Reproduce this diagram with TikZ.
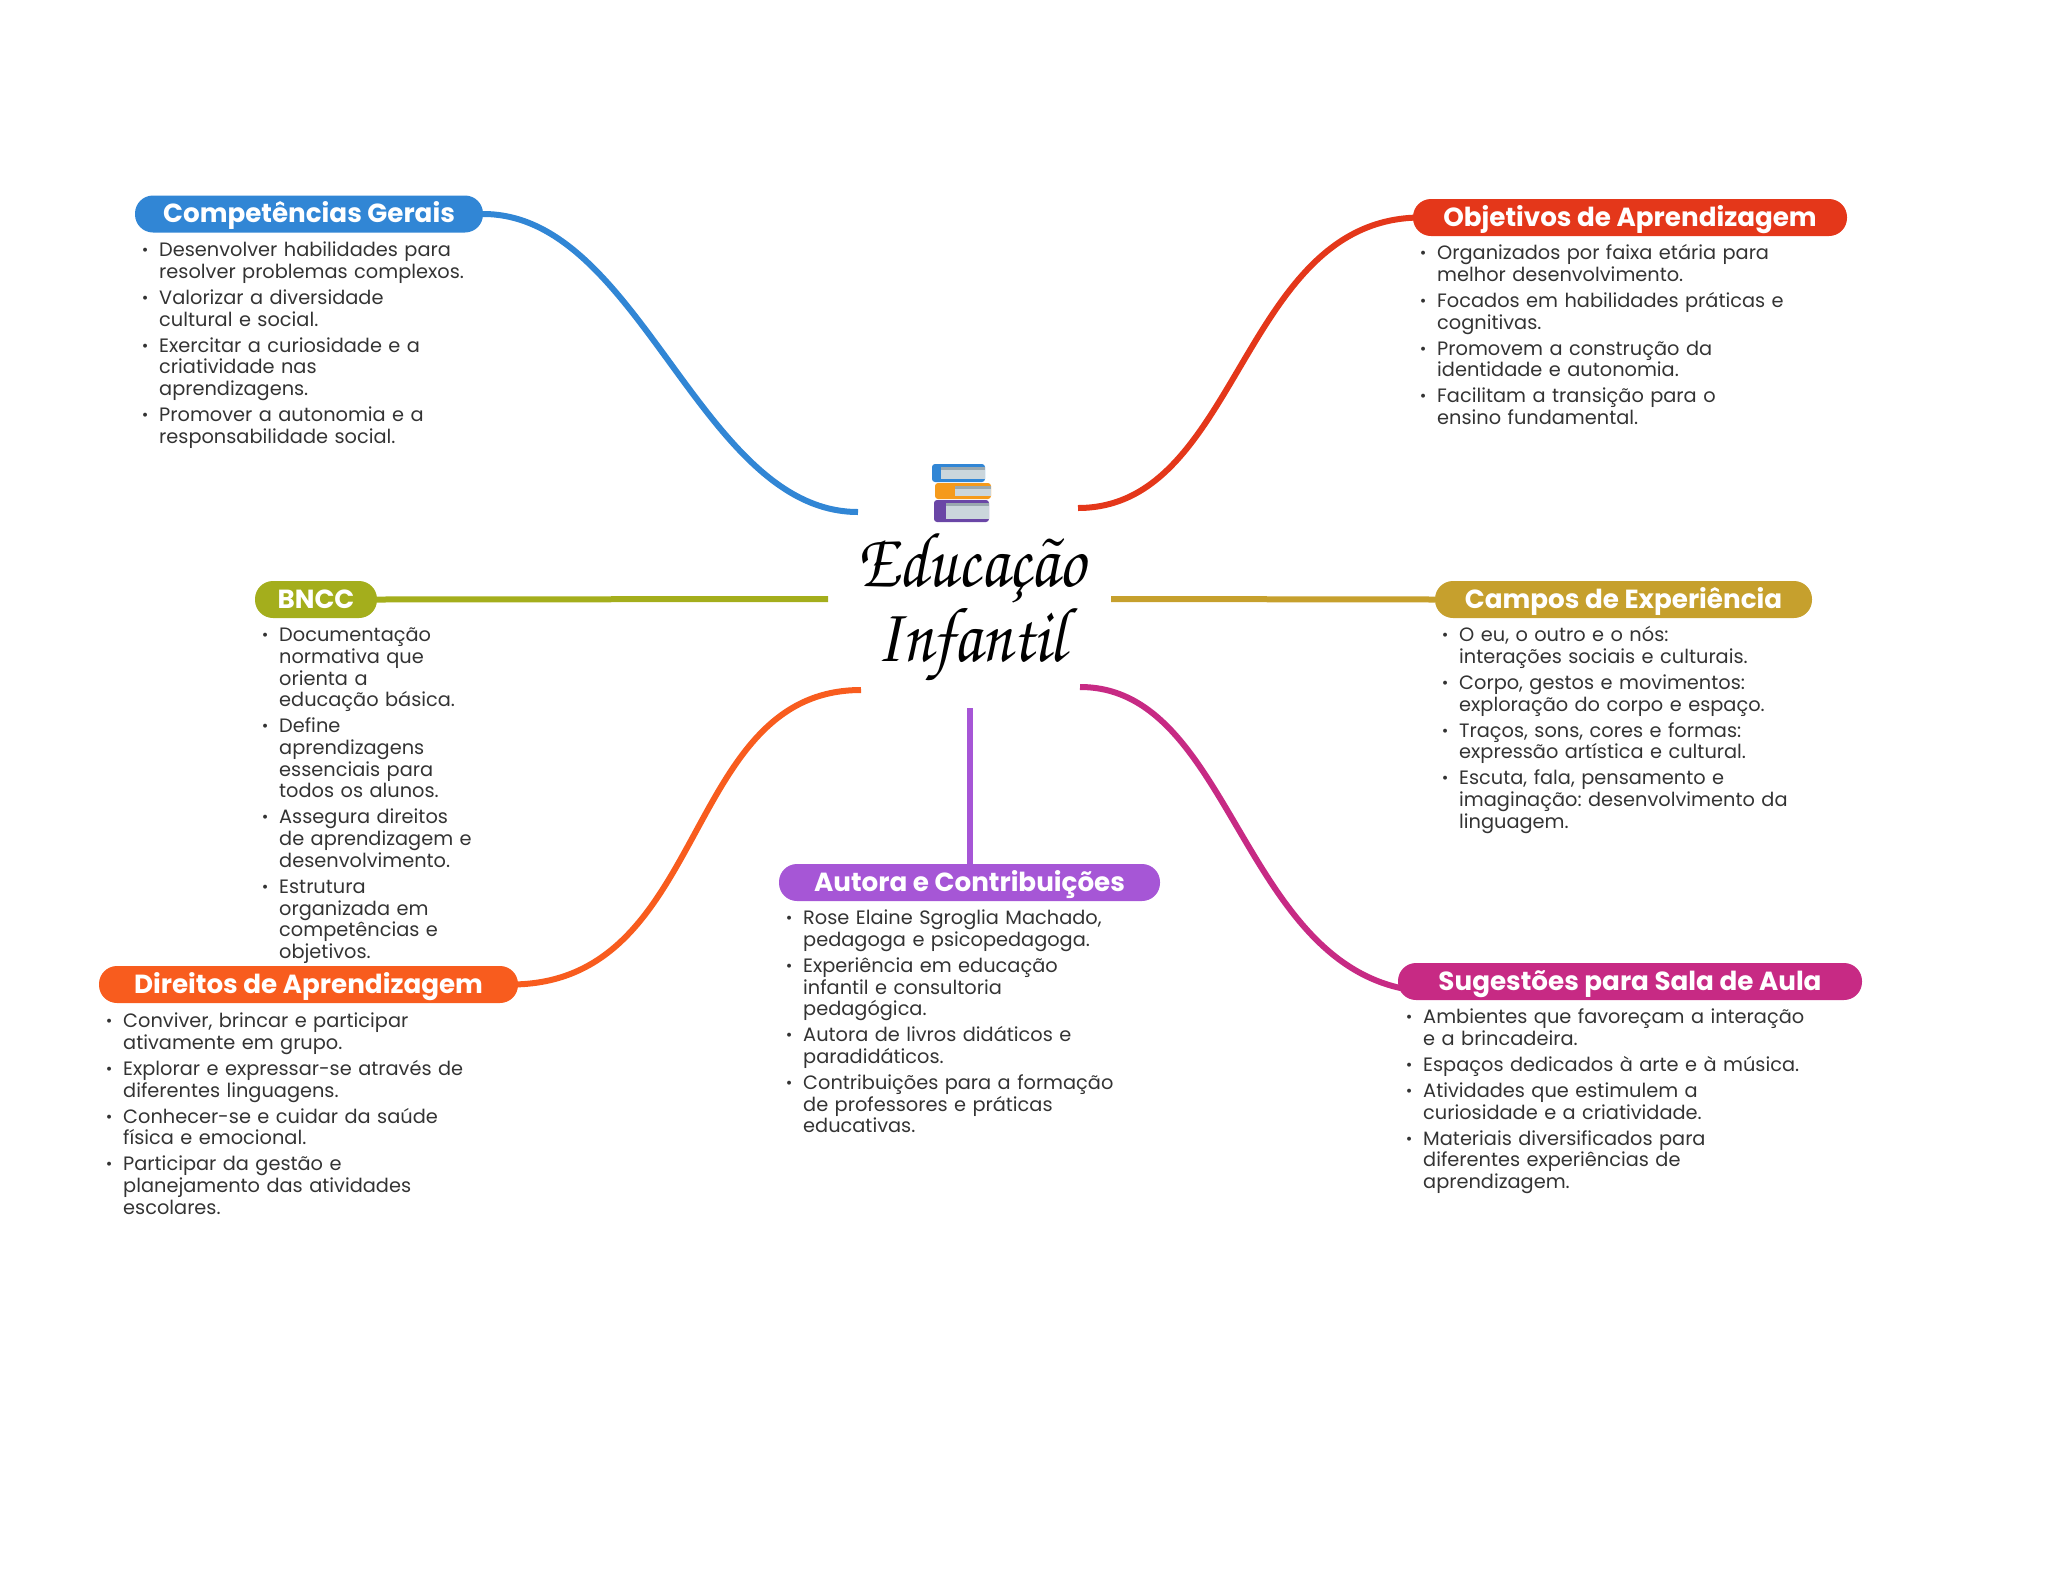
\documentclass[tikz,border=0pt]{standalone}
\usepackage{fontspec}
\usetikzlibrary{backgrounds}
\setmainfont{Poppins}
\newfontfamily\titlefont{TeX Gyre Chorus}

\definecolor{compblue}{HTML}{3186D5}
\definecolor{objred}{HTML}{E4371A}
\definecolor{campgold}{HTML}{C6A02D}
\definecolor{sugpink}{HTML}{C72A84}
\definecolor{autpurple}{HTML}{A656D6}
\definecolor{dirorange}{HTML}{F85C1E}
\definecolor{bncolive}{HTML}{A4AE1C}
\definecolor{bodygray}{HTML}{333333}
\definecolor{bookpage}{HTML}{CBD6DC}
\definecolor{bookband}{HTML}{9AA8AF}
\definecolor{bookorange}{HTML}{F59A1B}
\definecolor{bookpurple}{HTML}{6A46A6}

\newcommand{\itm}[1]{\par\frenchspacing\parskip=4.3pt\leftskip=14pt\noindent\makebox[0pt][c]{\hspace*{-28pt}\raisebox{1pt}{\fontsize{16}{16}\selectfont •}}\rule{0pt}{16pt}#1\par}

\tikzset{
	pill/.style={fill=#1, rounded corners=18pt, minimum height=37pt, inner sep=0pt,
		text=white, text height=19pt, text depth=2pt, font=\fontsize{26.2}{26.2}\selectfont\bfseries},
	itembox/.style={anchor=north west, inner sep=0pt, text width=#1, align=left, text=bodygray,
		font=\fontsize{19.35}{21.7}\selectfont},
	link/.style={#1, line width=6pt}
}

\begin{document}
\begin{tikzpicture}[x=1pt,y=-1pt]
	\useasboundingbox (0,0) rectangle (2048,1569);

	% title
	\node (title) at (971,607) [align=center, inner sep=0pt, xscale=0.85, transform shape, font=\titlefont\fontsize{78}{75}\selectfont] {Educação\\Infantil};

	% books
	\fill [compblue, rounded corners=3pt] (932,464) rectangle (985,482);
	\fill [bookpage] (941,467) rectangle (985,479);
	\fill [bookband] (941,467) rectangle (985,470);
	\fill [bookorange, rounded corners=3pt] (935,483) rectangle (991,499);
	\fill [bookpage] (955,486) rectangle (991,496);
	\fill [bookband] (955,486) rectangle (991,488.5);
	\fill [bookpurple, rounded corners=3pt] (934,500) rectangle (989,522);
	\fill [bookpage] (946,503) rectangle (989,519);
	\fill [bookband] (946,503) rectangle (989,506);

	% free ends at the title
	\coordinate (compend) at (858,512);
	\coordinate (objend) at (1078,508);
	\coordinate (bnccend) at (828,599);
	\coordinate (campend) at (1111,599);
	\coordinate (dirend) at (861,690);
	\coordinate (sugend) at (1080,687);
	\coordinate (autend) at (969.5,708);

	% headers
	\node (comp) at (309,214) [pill=compblue, minimum width=348pt] {Competências Gerais};
	\node (obj) at (1630,217.5) [pill=objred, minimum width=434pt] {Objetivos de Aprendizagem};
	\node (camp) at (1623.5,599.5) [pill=campgold, minimum width=377pt] {Campos de Experiência};
	\node (sug) at (1630,981.5) [pill=sugpink, minimum width=464pt] {Sugestões para Sala de Aula};
	\node (aut) at (969.5,882.5) [pill=autpurple, minimum width=381pt] {Autora e Contribuições};
	\node (dir) at (308.5,984.5) [pill=dirorange, minimum width=419pt] {Direitos de Aprendizagem};
	\node (bncc) at (316,599.5) [pill=bncolive, minimum width=122pt] {BNCC};

	% connectors
	\begin{pgfonlayer}{background}
	\draw [link=compblue] (comp.east) .. controls (640,214) and (700,512) .. (compend);
	\draw [link=objred] ([xshift=8pt]obj.west) .. controls (1240,218) and (1240,508) .. (objend);
	\draw [link=bncolive] (bncc.east) -- (bnccend);
	\draw [link=campgold] (camp.west) -- (campend);
	\draw [link=dirorange] ([xshift=-8pt]dir.east) .. controls (710,985) and (680,690) .. (dirend);
	\draw [link=sugpink] ([xshift=10pt,yshift=-8pt]sug.west) .. controls (1240,960) and (1230,687) .. (sugend);
	\draw [link=autpurple] (aut.north) -- (autend);
	\end{pgfonlayer}

	% lists
	\node (complist) at (145,230.5) [itembox=345pt] {%
		\itm{Desenvolver habilidades para\\resolver problemas complexos.}
		\itm{Valorizar a diversidade\\cultural e social.}
		\itm{Exercitar a curiosidade e a\\criatividade nas\\aprendizagens.}
		\itm{Promover a autonomia e a\\responsabilidade social.}};
	\node (objlist) at (1423,233.5) [itembox=390pt] {%
		\itm{Organizados por faixa etária para\\melhor desenvolvimento.}
		\itm{Focados em habilidades práticas e\\cognitivas.}
		\itm{Promovem a construção da\\identidade e autonomia.}
		\itm{Facilitam a transição para o\\ensino fundamental.}};
	\node (camplist) at (1445,615.5) [itembox=370pt] {%
		\itm{O eu, o outro e o nós:\\interações sociais e culturais.}
		\itm{Corpo, gestos e movimentos:\\exploração do corpo e espaço.}
		\itm{Traços, sons, cores e formas:\\expressão artística e cultural.}
		\itm{Escuta, fala, pensamento e\\imaginação: desenvolvimento da\\linguagem.}};
	\node (suglist) at (1409,997.5) [itembox=420pt] {%
		\itm{Ambientes que favoreçam a interação\\e a brincadeira.}
		\itm{Espaços dedicados à arte e à música.}
		\itm{Atividades que estimulem a\\curiosidade e a criatividade.}
		\itm{Materiais diversificados para\\diferentes experiências de\\aprendizagem.}};
	\node (autlist) at (789,898.5) [itembox=345pt] {%
		\itm{Rose Elaine Sgroglia Machado,\\pedagoga e psicopedagoga.}
		\itm{Experiência em educação\\infantil e consultoria\\pedagógica.}
		\itm{Autora de livros didáticos e\\paradidáticos.}
		\itm{Contribuições para a formação\\de professores e práticas\\educativas.}};
	\node (dirlist) at (109,1001.5) [itembox=390pt] {%
		\itm{Conviver, brincar e participar\\ativamente em grupo.}
		\itm{Explorar e expressar-se através de\\diferentes linguagens.}
		\itm{Conhecer-se e cuidar da saúde\\física e emocional.}
		\itm{Participar da gestão e\\planejamento das atividades\\escolares.}};
	\node (bncclist) at (265,615.5) [itembox=220pt] {%
		\itm{Documentação\\normativa que\\orienta a\\educação básica.}
		\itm{Define\\aprendizagens\\essenciais para\\todos os alunos.}
		\itm{Assegura direitos\\de aprendizagem e\\desenvolvimento.}
		\itm{Estrutura\\organizada em\\competências e\\objetivos.}};
\end{tikzpicture}
\end{document}
